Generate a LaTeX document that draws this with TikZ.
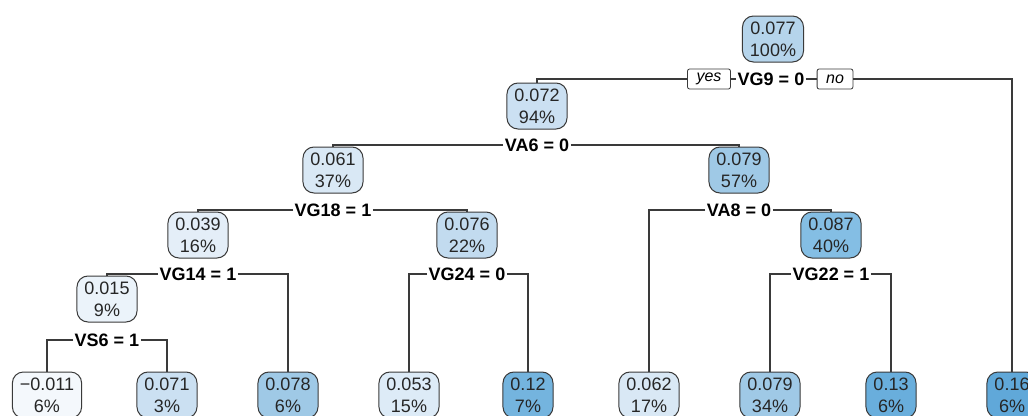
\documentclass[tikz,border=0pt]{standalone}
\usepackage{fontspec}
\setmainfont{Liberation Sans}

\definecolor{fillA}{HTML}{F4F8FC}
\definecolor{fillB}{HTML}{EBF3FA}
\definecolor{fillC}{HTML}{E4EEF8}
\definecolor{fillD}{HTML}{DDEBF7}
\definecolor{fillE}{HTML}{D9E8F5}
\definecolor{fillF}{HTML}{CBE0F2}
\definecolor{fillG}{HTML}{C2DBEF}
\definecolor{fillH}{HTML}{B5D4EB}
\definecolor{fillI}{HTML}{9FC9E6}
\definecolor{fillJ}{HTML}{84BEE4}
\definecolor{fillK}{HTML}{74B4DE}
\definecolor{fillL}{HTML}{69AEDC}
\definecolor{fillM}{HTML}{60A8D9}
\definecolor{edge}{HTML}{3A3A3A}

\begin{document}
\begin{tikzpicture}[x=1pt, y=1pt,
        box/.style={draw=edge, line width=1pt, rounded corners=11pt, align=center,
            inner xsep=7.5pt, inner ysep=2pt, minimum height=46pt,
            text=black!85, font=\fontsize{18}{22}\selectfont},
        split/.style={fill=white, inner xsep=1.5pt, inner ysep=1pt,
            font=\bfseries\fontsize{18}{20}\selectfont},
        tag/.style={draw=edge, line width=0.8pt, rounded corners=2pt, fill=white,
            inner xsep=9pt, inner ysep=0pt, minimum height=20pt,
            font=\itshape\fontsize{16}{18}\selectfont},
        branch/.style={draw=edge, line width=1.3pt}]
        \clip (0,0) rectangle (1028,-415);

        % Root
        \node[box, fill=fillH] (r) at (773,-39) {0.077\\100\%};
        \node[split] (sr) at (771,-79) {VG9 = 0};
        \node[tag] (yes) at (709,-79) {yes};
        \node[tag] (no) at (835,-79) {no};

        % Second level
        \node[box, fill=fillF] (a) at (537,-106) {0.072\\94\%};
        \node[split] (sa) at (537,-145) {VA6 = 0};

        % Third level
        \node[box, fill=fillE] (b) at (333,-170) {0.061\\37\%};
        \node[split] (sb) at (333,-210) {VG18 = 1};
        \node[box, fill=fillI] (c) at (739,-170) {0.079\\57\%};
        \node[split] (sc) at (739,-210) {VA8 = 0};

        % Fourth level
        \node[box, fill=fillC] (d) at (198,-235) {0.039\\16\%};
        \node[split] (sd) at (198,-274) {VG14 = 1};
        \node[box, fill=fillG] (e) at (467,-235) {0.076\\22\%};
        \node[split] (se) at (467,-274) {VG24 = 0};
        \node[box, fill=fillJ] (f) at (831,-235) {0.087\\40\%};
        \node[split] (sf) at (831,-274) {VG22 = 1};

        % Fifth level
        \node[box, fill=fillB] (g) at (107,-299) {0.015\\9\%};
        \node[split] (sg) at (107,-340) {VS6 = 1};

        % Leaves
        \node[box, fill=fillA] (l1) at (47,-395) {−0.011\\6\%};
        \node[box, fill=fillF] (l2) at (167,-395) {0.071\\3\%};
        \node[box, fill=fillI] (l3) at (288,-395) {0.078\\6\%};
        \node[box, fill=fillD] (l4) at (409,-395) {0.053\\15\%};
        \node[box, fill=fillK] (l5) at (528,-395) {0.12\\7\%};
        \node[box, fill=fillE] (l6) at (649,-395) {0.062\\17\%};
        \node[box, fill=fillI] (l7) at (770,-395) {0.079\\34\%};
        \node[box, fill=fillL] (l8) at (891,-395) {0.13\\6\%};
        \node[box, fill=fillM] (l9) at (1012,-395) {0.16\\6\%};

        % Branches
        \draw[branch] (yes.west) -| (a.north);
        \draw[branch] (yes.east) -- (sr.west);
        \draw[branch] (sr.east) -- (no.west);
        \draw[branch] (no.east) -| (l9.north);
        \draw[branch] (sa.west) -| (b.north);
        \draw[branch] (sa.east) -| (c.north);
        \draw[branch] (sb.west) -| (d.north);
        \draw[branch] (sb.east) -| (e.north);
        \draw[branch] (sc.west) -| (l6.north);
        \draw[branch] (sc.east) -| (f.north);
        \draw[branch] (sd.west) -| (g.north);
        \draw[branch] (sd.east) -| (l3.north);
        \draw[branch] (se.west) -| (l4.north);
        \draw[branch] (se.east) -| (l5.north);
        \draw[branch] (sf.west) -| (l7.north);
        \draw[branch] (sf.east) -| (l8.north);
        \draw[branch] (sg.west) -| (l1.north);
        \draw[branch] (sg.east) -| (l2.north);
    \end{tikzpicture}
\end{document}
